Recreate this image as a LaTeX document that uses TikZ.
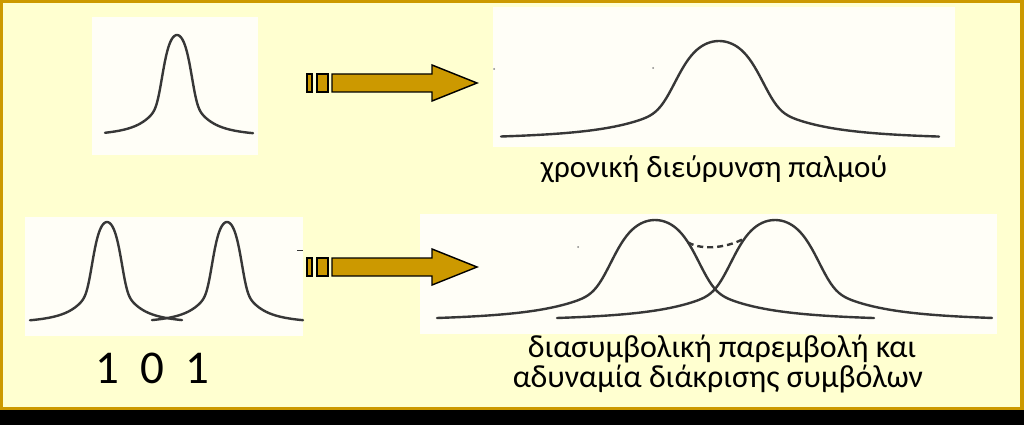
\documentclass[tikz,border=0pt]{standalone}
\usepackage{fontspec}
\setmainfont{Carlito}
\usetikzlibrary{positioning}
\definecolor{gold}{RGB}{204,153,0}
\definecolor{creme}{RGB}{255,255,208}
\definecolor{papier}{RGB}{255,254,247}
\definecolor{tinte}{RGB}{55,55,55}

\begin{document}
\begin{tikzpicture}[x=1pt,y=-1pt,
  declare function={puls(\u)=0.425*exp(-min(((\u)*(\u)/0.9409)^2,9))+0.575/(1+(\u)*(\u)/1.3924);},
  kurve/.style={tinte,line width=2.4pt,line cap=round,line join=round},
  tafel/.style={fill=papier},
  pfeil/.style={draw=black,line width=1.4pt,fill=gold},
  beschriftung/.style={anchor=base,inner sep=0pt,font=\fontsize{32}{38}\selectfont}]
\useasboundingbox (0,0) rectangle (1024,425);
%Rahmen und Hintergrund
\fill[gold] (0,0) rectangle (1024,410);
\fill[creme] (3,3) rectangle (1020,407);
\fill[black] (0,410) rectangle (1024,425);
\foreach \li/\ob/\re/\un in {92/17/258/155, 493/7/955/147, 25/217/303/336, 420/214/997/334}
  \fill[tafel] (\li,\ob) rectangle (\re,\un);
%Pulse: Mitte/Breite/Anfang/Ende/Grundlinie/Hoehe
\foreach \mitte/\breite/\von/\bis/\basis/\hoehe in {177/17/105/253/137/102, 107/17/30/182/324/102, 227/17/152/303/324/102, 719/50/501/939/140.4/99.4, 655/50/437/874/322/102, 775/50/557/992/322/102}
  \draw[kurve] plot[domain=\von:\bis,samples=160] (\x,{\basis-\hoehe*puls((\x-\mitte)/\breite)});
%Gestrichelte Verbindung der Maxima
\coordinate (dL) at (688,{322-102*puls((688-655)/50)});
\coordinate (dR) at (745,{322-102*puls((745-775)/50)});
\draw[kurve,line cap=butt,dash pattern=on 6pt off 4pt] (dL) .. controls +(15,9) and +(-15,9) .. (dR);
\draw[tinte,line width=1pt] (297,250) -- (303,250);
\foreach \px/\py in {494/69, 653/68, 578/247}
  \fill[tinte!60] (\px,\py) circle (1pt);
%Pfeile
\foreach \ay in {83,267}{
  \draw[pfeil] (307,\ay-9) rectangle (312,\ay+9);
  \draw[pfeil] (317,\ay-9) rectangle (328,\ay+9);
  \draw[pfeil] (332,\ay-9) -- (432,\ay-9) -- (432,\ay-18) -- (477,\ay) -- (432,\ay+18) -- (432,\ay+9) -- (332,\ay+9) -- cycle;
}
\node[beschriftung,font=\fontsize{31}{37}\selectfont] (breit) at (714,177) {χρονική διεύρυνση παλμού};
\node[beschriftung] (isiA) at (722,357) {διασυμβολική παρεμβολή και};
\node[beschriftung] (isiB) at (718,387) {αδυναμία διάκρισης συμβόλων};
\node[beschriftung,font=\fontsize{47}{56}\selectfont] (bits) at (152.5,383) {1~~0~~1};
\end{tikzpicture}
\end{document}
